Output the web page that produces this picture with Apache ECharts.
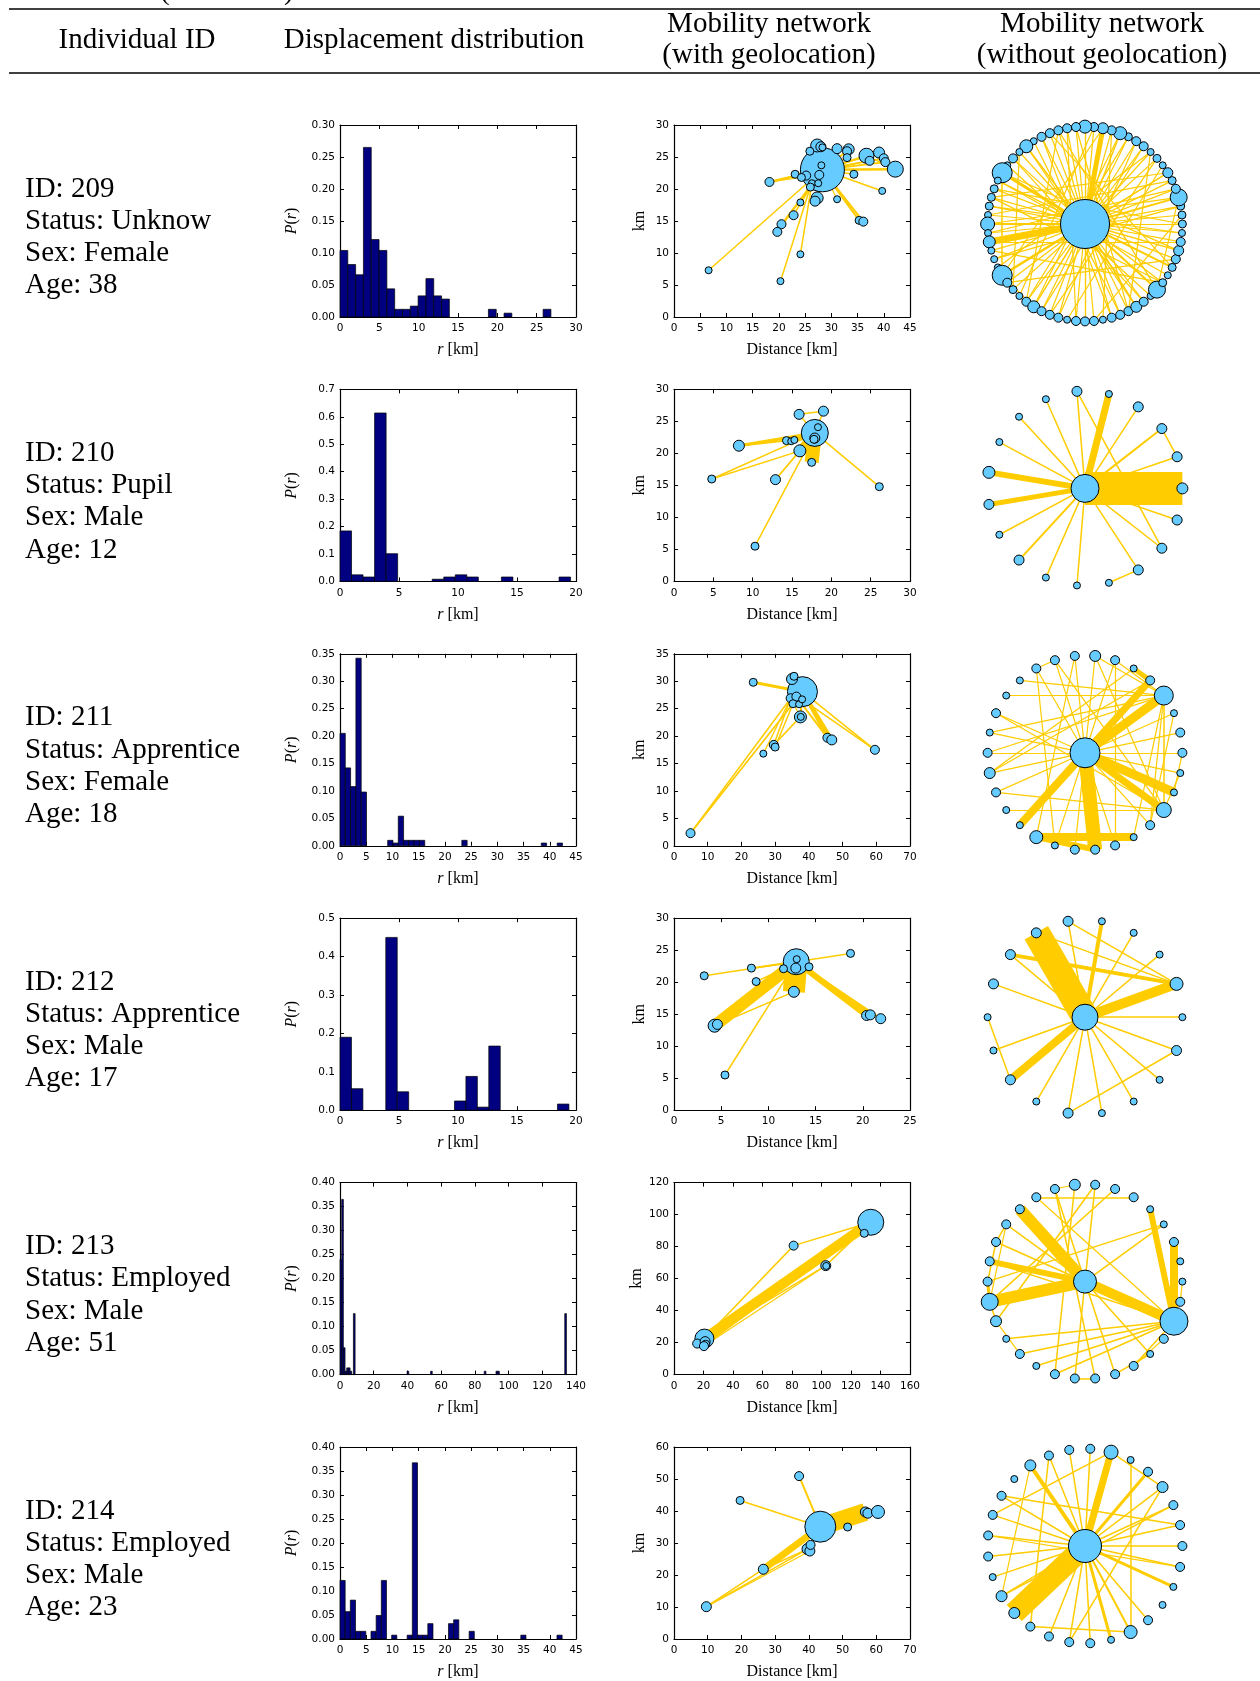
<!DOCTYPE html>
<html>
<head>
<meta charset="utf-8">
<script src="https://cdn.jsdelivr.net/npm/echarts@6/dist/echarts.min.js"></script>
<style>
html, body { margin: 0; padding: 0; background: #fff; }
#chart { width: 1260px; height: 1681px; }
</style>
</head>
<body>
<div id="chart"></div>
<script>
// row labels
const ids = ['209', '210', '211', '212', '213', '214']
const statuses = ['Unknow', 'Pupil', 'Apprentice', 'Apprentice', 'Employed', 'Employed']
const sexes = ['Female', 'Male', 'Female', 'Male', 'Male', 'Male']
const ages = ['38', '12', '18', '17', '51', '23']

// displacement histograms: [bin index, P(r)]
const binWidths = [0.993, 0.977, 1.01, 0.97, 0.995, 0.985]
const hist209 = [[0,0.104],[1,0.082],[2,0.066],[3,0.265],[4,0.121],[5,0.104],[6,0.044],[7,0.012],[8,0.012],[9,0.017],[10,0.033],[11,0.060],[12,0.033],[13,0.028],[19,0.012],[21,0.006],[26,0.012]]
const hist210 = [[0,0.184],[1,0.024],[2,0.016],[3,0.614],[4,0.101],[8,0.008],[9,0.016],[10,0.024],[11,0.016],[14,0.016],[19,0.016]]
const hist211 = [[0,0.205],[1,0.142],[2,0.108],[3,0.342],[4,0.098],[9,0.010],[10,0.005],[11,0.054],[12,0.010],[13,0.010],[14,0.010],[15,0.010],[23,0.010],[38,0.005],[41,0.005]]
const hist212 = [[0,0.19],[1,0.056],[4,0.45],[5,0.048],[10,0.024],[11,0.088],[12,0.008],[13,0.167],[19,0.016]]
const hist213 = [[0,0.24],[1,0.365],[2,0.056],[3,0.007],[4,0.014],[5,0.014],[6,0.007],[8,0.127],[40,0.007],[54,0.007],[86,0.007],[93,0.007],[94,0.007],[134,0.127]]
const hist214 = [[0,0.122],[1,0.057],[2,0.081],[3,0.016],[4,0.016],[6,0.016],[7,0.049],[8,0.122],[10,0.008],[13,0.008],[14,0.367],[15,0.008],[16,0.008],[17,0.032],[21,0.032],[22,0.040],[25,0.016],[35,0.008],[42,0.008]]

// axis ranges: [max, step]
const histX = [[30,5],[20,5],[45,5],[20,5],[140,20],[45,5]]
const histY = [[0.30,0.05,2],[0.7,0.1,1],[0.35,0.05,2],[0.5,0.1,1],[0.40,0.05,2],[0.40,0.05,2]]
const geoX = [[45,5],[30,5],[70,10],[25,5],[160,20],[70,10]]
const geoY = [[30,5],[30,5],[35,5],[30,5],[120,20],[60,10]]

// geolocated nodes: [x km, y km, weight]
const geoNodes209 = [[28.3,23.0,44],[27.3,26.8,13],[28.0,26.6,10],[28.3,26.5,7],[31.1,26.3,10],[33.3,26.2,11],[33.0,25.9,9],[33.0,24.9,8],[36.7,25.2,15],[37.3,24.4,9],[39.1,25.7,11],[40.0,24.8,9],[40.3,24.2,9],[42.2,23.1,16],[34.3,22.3,8],[25.9,25.9,8],[23.1,22.3,8],[25.2,22.1,9],[27.7,22.2,9],[28.1,23.7,7],[24.3,21.8,8],[26.3,20.9,7],[27.5,20.9,7],[26.0,20.3,8],[18.2,21.1,9],[27.3,18.6,12],[26.9,18.1,10],[31.1,18.4,7],[24.1,17.9,7],[22.8,15.9,9],[20.5,14.5,9],[19.7,13.3,9],[35.3,15.1,8],[36.1,14.9,9],[39.7,19.7,7],[24.1,9.8,7],[20.3,5.6,7],[6.6,7.3,7]]
const geoNodes210 = [[17.9,23.2,27],[18.3,24.1,7],[17.9,22.4,10],[17.8,22.2,8],[15.9,26.1,10],[19.0,26.6,10],[14.3,22.0,8],[14.9,21.9,7],[15.3,22.1,7],[8.25,21.2,11],[16.0,20.4,12],[17.5,18.6,8],[4.8,16.0,8],[12.9,15.9,10],[26.1,14.8,8],[10.3,5.5,8]]
const geoNodes211 = [[38.1,28.1,30],[35.0,30.4,11],[35.6,30.9,8],[23.5,29.8,8],[34.6,26.9,9],[36.3,27.2,9],[35.3,25.9,8],[37.1,25.8,7],[38.0,26.7,7],[37.5,23.5,12],[37.6,23.5,7],[29.6,18.4,9],[30.0,18.0,8],[26.5,16.8,7],[45.5,19.7,9],[46.8,19.3,10],[59.6,17.5,9],[4.9,2.3,9]]
const geoNodes212 = [[12.95,23.2,26],[13.0,23.6,7],[12.9,22.2,10],[14.3,22.4,8],[11.6,22.1,8],[8.2,22.2,8],[3.2,21.0,8],[8.7,20.1,8],[18.7,24.5,8],[12.7,18.5,11],[4.3,13.2,13],[4.6,13.4,10],[20.4,14.8,10],[20.8,14.9,10],[21.9,14.3,10],[5.4,5.5,8]]
const geoNodes213 = [[133.4,95.2,26],[129.0,88.3,8],[81.1,80.6,9],[102.9,68.1,10],[103.2,67.9,7],[20.6,22.5,19],[15.7,19.4,9],[21.1,20.6,10],[21.5,19.0,8],[20.3,17.8,9]]
const geoNodes214 = [[43.4,35.1,31],[37.1,50.9,9],[19.6,43.3,8],[56.75,39.7,10],[57.5,39.3,10],[60.5,39.7,13],[51.5,35.0,8],[39.6,28.1,11],[40.3,27.5,10],[40.5,29.4,9],[26.5,21.8,10],[9.6,10.1,10]]

// geolocated links: [from, to, trips]
const geoLinks209 = [[0,1,1.2],[0,4,1.2],[0,5,1.5],[0,6,1.5],[0,7,1.5],[0,8,2],[0,9,1.5],[0,10,1.5],[0,11,1.5],[0,12,2],[0,13,2.5],[8,13,1.5],[0,14,1.5],[0,15,1.2],[0,16,1.5],[0,17,1.2],[16,20,1.2],[0,24,2.5],[20,24,1.2],[0,25,2],[0,26,1.5],[0,27,1.2],[0,28,1.2],[23,29,1.5],[0,30,1.5],[23,31,1.5],[0,32,2],[0,33,2],[0,34,1.5],[21,35,1.5],[23,36,1.5],[0,37,1.5]]
const geoLinks210 = [[0,11,14],[0,10,8],[0,8,6],[0,7,3],[0,6,1.5],[0,9,3],[6,9,2],[0,12,1.5],[10,12,1.5],[0,13,1.5],[10,13,1.5],[0,15,1.5],[0,14,1.5],[0,4,1.5],[4,5,1.5],[0,5,1.5]]
const geoLinks211 = [[3,0,3],[0,17,1.5],[4,17,1.5],[6,17,1.2],[4,11,1.5],[6,12,1.5],[9,11,1.5],[4,13,1.2],[0,14,3],[0,15,4],[5,14,2],[0,16,1.5],[8,16,1.5],[0,9,2],[4,9,1.2],[0,5,1.5],[0,1,1.5]]
const geoLinks212 = [[0,10,12],[0,9,22],[0,12,6],[0,13,4],[0,14,2],[0,6,1.5],[5,0,2],[7,4,1.5],[0,8,1.5],[0,15,1.5],[10,9,1.2],[11,9,1.2]]
const geoLinks213 = [[5,0,10],[7,0,4],[5,2,1.5],[2,0,1.5],[5,3,1.5],[3,0,1.5],[9,3,1.2],[8,0,2]]
const geoLinks214 = [[0,3,18],[0,10,7],[10,11,1.5],[11,7,1.5],[11,8,1.2],[0,2,1.5],[0,1,2],[0,5,2],[0,6,1.5],[0,9,2],[7,10,1.5]]

// circular networks: hub weight, ring node weights (counter-clockwise from 3 o'clock), links (-1 = hub)
const hubSizes = [49, 28, 30, 26, 23, 33]
const ringSizes209 = [8,8,8,17,9,8,10,7,8,7,9,9,8,13,9,11,9,13,9,9,9,9,9,7,13,7,9,7,20,7,8,8,8,7,14,7,12,7,7,7,20,9,8,7,9,12,9,9,9,7,9,9,9,7,9,9,9,11,9,7,17,8,7,8,9,10,9,7]
const ringSizes210 = [11,10,10,10,7,10,7,7,7,12,10,7,10,7,7,7,10,10,10]
const ringSizes211 = [9,9,7,19,9,7,9,11,9,9,9,7,7,9,7,9,11,9,7,7,13,7,9,9,9,7,9,15,7,7]
const ringSizes212 = [7,13,7,7,7,10,10,10,10,7,7,10,7,10,7,7,7,10]
const ringSizes213 = [7,7,9,7,7,9,9,9,11,9,9,9,9,9,9,9,17,11,7,9,7,9,9,9,9,9,7,9,28,9]
const ringSizes214 = [9,9,9,11,9,7,14,9,9,9,11,7,9,9,9,9,7,11,11,9,9,9,9,7,13,9,7,7,9]

const ringLinks209 = [[-1,0,1.2],[-1,1,1.2],[-1,2,1.2],[-1,3,2],[-1,4,1.2],[-1,5,1.2],[-1,6,1.2],[-1,8,1.2],[-1,9,1.2],[-1,10,1.2],[-1,11,1.2],[-1,12,1.2],[-1,13,1.5],[-1,14,1.2],[-1,15,5],[-1,16,1.2],[-1,17,1.2],[-1,18,1.2],[-1,19,1.2],[-1,20,1.2],[-1,21,1.2],[-1,22,1.2],[-1,24,1.5],[-1,25,1.2],[-1,26,1.2],[-1,28,3],[-1,29,1.2],[-1,30,1.2],[-1,31,1.2],[-1,32,1.2],[-1,33,1.2],[-1,34,2],[-1,35,1.2],[-1,36,7],[-1,37,1.2],[-1,38,1.2],[-1,40,2.5],[-1,41,1.2],[-1,42,1.2],[-1,44,1.2],[-1,45,1.5],[-1,46,1.2],[-1,47,1.2],[-1,48,1.2],[-1,50,1.2],[-1,51,1.2],[-1,52,1.2],[-1,54,1.2],[-1,55,1.2],[-1,56,1.2],[-1,57,1.5],[-1,58,1.2],[-1,60,2],[-1,61,1.2],[-1,63,2],[-1,64,1.2],[-1,65,1.5],[-1,66,1.2],[-1,67,1.2],
  [13,45,1.2],[17,51,1.2],[15,40,1.2],[20,60,1.2],[24,57,1.2],[6,40,1.2],[10,46,1.2],[3,34,1.2],[28,65,1.2],[29,62,1.2],[30,0,1.2],[36,66,1.2],[41,64,1.2],[44,12,1.2],[47,8,1.2],[50,19,1.2],[54,22,1.2],[58,26,1.2],[61,31,1.2],[5,33,1.2],[2,38,1.2],[11,48,1.2],[14,53,1.2],[18,56,1.2],[21,63,1.2],[23,55,1.2],[25,42,1.2],[27,59,1.2],[32,67,1.2],[35,4,1.2],[39,9,1.2],[43,16,1.2],[49,7,1.2],[52,1,1.2],[61,37,1.2],[3,60,1.2],[28,40,1.5],[34,36,1.2],[24,28,1.2],[45,40,1.2],[57,60,1.2],[13,17,1.2],[20,44,1.2],[9,56,1.2],[6,31,1.2]]
const ringLinks210 = [[-1,0,33],[-1,4,7],[-1,9,6],[-1,10,5],[-1,1,1.5],[-1,2,2],[-1,3,1.5],[-1,5,1.5],[-1,6,1.5],[-1,7,1.5],[-1,8,1.5],[-1,11,1.5],[-1,12,2],[-1,13,1.5],[-1,14,1.5],[-1,16,1.5],[-1,17,1.5],[-1,18,1.5],[1,2,1.5],[15,16,1.5],[5,17,1.5]]
const ringLinks211 = [[-1,3,9],[-1,4,7],[4,5,5],[-1,28,9],[-1,27,7],[-1,23,14],[20,25,8],[20,23,6],[-1,19,8],[-1,0,1.2],[-1,1,1.2],[-1,2,1.2],[-1,6,1.2],[-1,7,1.2],[-1,8,1.2],[-1,9,1.2],[-1,10,1.2],[-1,13,1.2],[-1,14,1.2],[-1,15,1.2],[-1,16,1.2],[-1,17,1.2],[-1,21,1.2],[-1,22,1.2],[-1,24,1.2],[-1,26,1.2],[-1,29,1.2],[3,12,1.2],[3,11,1.2],[3,14,1.2],[3,26,1.2],[3,25,1.2],[3,27,1.5],[3,6,1.2],[7,27,1.2],[27,17,1.2],[27,18,1.2],[27,13,1.2],[27,9,1.2],[16,4,1.2],[15,3,1.2],[8,20,1.2],[10,21,1.2],[6,24,1.2],[28,0,1.2],[27,29,1.2],[26,2,1.2],[7,3,1.2],[9,10,1.2],[16,5,1.2]]
const ringLinks212 = [[-1,6,27],[-1,1,10],[-1,11,8],[-1,4,4],[7,1,4],[-1,0,1.5],[-1,2,1.5],[-1,3,1.5],[-1,5,1.5],[-1,7,1.5],[-1,8,1.5],[-1,10,1.5],[-1,12,1.5],[-1,13,1.5],[-1,14,1.5],[-1,15,1.5],[-1,16,1.5],[-1,17,1.5],[9,11,1.5],[5,1,1.5],[6,1,1.5],[13,17,1.5]]
const ringLinks213 = [[-1,11,12],[-1,16,12],[-1,14,6],[-1,28,10],[4,28,6],[2,28,8],[15,16,3],[16,17,1.5],[28,18,1.5],[28,19,1.5],[28,20,1.5],[28,21,1.5],[28,14,1.5],[28,13,1.5],[28,25,1.5],[28,10,1.2],[-1,3,1.5],[-1,7,1.5],[-1,9,1.5],[-1,22,1.5],[-1,24,1.5],[-1,12,1.5],[-1,26,1.5],[10,5,1.5],[8,21,1.5],[9,23,1.5],[7,17,1.5],[6,16,1.5],[12,16,1.2],[13,15,1.5],[8,9,1.2],[3,15,1.5],[19,17,1.2],[22,23,1.5],[24,26,1.5],[25,27,1.2],[12,13,1.5],[29,0,1.2]]
const ringLinks214 = [[-1,18,22],[-1,6,7],[-1,10,4],[-1,4,3],[-1,27,3],[-1,23,3],[-1,24,2],[-1,0,1.5],[-1,1,1.5],[-1,2,1.5],[-1,3,1.5],[-1,7,1.5],[-1,8,1.5],[-1,9,1.5],[-1,12,1.5],[-1,13,1.5],[-1,14,1.5],[-1,15,1.5],[-1,16,1.5],[-1,17,1.5],[-1,20,1.5],[-1,21,1.5],[-1,22,1.5],[-1,25,1.5],[-1,28,1.5],[6,13,1.5],[6,3,1.5],[9,19,1.5],[10,17,1.2],[12,1,1.5],[14,28,1.2],[3,21,1.5],[5,24,1.5],[17,2,1.5],[19,24,1.5]]

const hists = [hist209, hist210, hist211, hist212, hist213, hist214]
const geoNodes = [geoNodes209, geoNodes210, geoNodes211, geoNodes212, geoNodes213, geoNodes214]
const geoLinks = [geoLinks209, geoLinks210, geoLinks211, geoLinks212, geoLinks213, geoLinks214]
const ringSizes = [ringSizes209, ringSizes210, ringSizes211, ringSizes212, ringSizes213, ringSizes214]
const ringLinks = [ringLinks209, ringLinks210, ringLinks211, ringLinks212, ringLinks213, ringLinks214]

// layout
const ROW_TOP = 125, ROW_STEP = 264.4, PLOT_W = 236, PLOT_H = 192
const HIST_LEFT = 340, GEO_LEFT = 674
const RING_CX = 1085, RING_CY = 224, RING_HALF = 112, RING_SPAN = 1.15

const barColor = '#000080'
const nodeColor = '#66CCFF'
const edgeColor = '#FFCC00'
const serif = '"Liberation Serif", "Times New Roman", serif'
const sans = '"DejaVu Sans", sans-serif'

const nameStyle = {
  fontFamily: serif, fontSize: 16, color: '#000',
  rich: { i: { fontFamily: serif, fontSize: 16, fontStyle: 'italic', color: '#000' } }
}

const grids = [], xAxes = [], yAxes = [], series = [], graphics = []

// one framed plot with ticks on all four sides
function frame(left, top, xr, yr, xName, yName, yGap) {
  const g = grids.length
  grids.push({ left, top, width: PLOT_W, height: PLOT_H })
  const line = { show: true, onZero: false, lineStyle: { color: '#000', width: 1.2 } }
  const tick = { show: true, inside: true, length: 4, lineStyle: { color: '#000', width: 1 } }
  const common = { type: 'value', gridIndex: g, axisLine: line, axisTick: tick, splitLine: { show: false } }
  const xi = xAxes.length, yi = yAxes.length
  xAxes.push({
    ...common, min: 0, max: xr[0], interval: xr[1], position: 'bottom',
    axisLabel: { fontFamily: sans, fontSize: 10.5, color: '#000', margin: 6 },
    name: xName, nameLocation: 'middle', nameGap: 25, nameTextStyle: nameStyle
  })
  xAxes.push({ ...common, min: 0, max: xr[0], interval: xr[1], position: 'top', axisLabel: { show: false } })
  const dec = yr[2] || 0
  yAxes.push({
    ...common, min: 0, max: yr[0], interval: yr[1], position: 'left',
    axisLabel: { fontFamily: sans, fontSize: 10.5, color: '#000', margin: 5, formatter: v => v.toFixed(dec) },
    name: yName, nameLocation: 'middle', nameGap: yGap, nameTextStyle: nameStyle
  })
  yAxes.push({ ...common, min: 0, max: yr[0], interval: yr[1], position: 'right', axisLabel: { show: false } })
  return { xi, yi }
}

function networkSeries(xi, yi, nodes, links) {
  series.push({
    type: 'lines', coordinateSystem: 'cartesian2d', xAxisIndex: xi, yAxisIndex: yi,
    silent: true, z: 2, clip: false,
    lineStyle: { color: edgeColor, opacity: 1, curveness: 0 },
    data: links.map(([a, b, w]) => ({
      coords: [nodes[a].slice(0, 2), nodes[b].slice(0, 2)],
      lineStyle: { width: w, color: edgeColor, cap: 'butt' }
    }))
  })
  series.push({
    type: 'scatter', xAxisIndex: xi, yAxisIndex: yi, silent: true, z: 3, clip: false,
    symbol: 'circle', symbolSize: v => v[2],
    itemStyle: { color: nodeColor, borderColor: '#000', borderWidth: 1, opacity: 1 },
    data: nodes.map(n => [n[0], n[1], n[2]])
  })
}

// circular layout position of ring node k (hub in the middle)
function ringXY(k, n) {
  if (k < 0) return [0, 0]
  const a = 2 * Math.PI * k / n
  return [Math.cos(a), Math.sin(a)]
}

function label(text, x, y, align) {
  return {
    type: 'text', x, y, silent: true,
    style: {
      text, font: '29px ' + serif, fill: '#000',
      align, verticalAlign: 'middle', textAlign: align, textVerticalAlign: 'middle'
    }
  }
}

for (let i = 0; i < 6; i++) {
  const top = ROW_TOP + i * ROW_STEP

  // displacement histogram
  const h = frame(HIST_LEFT, top, histX[i], histY[i], '{i|r} [km]', '{i|P}({i|r})', 40)
  const w = binWidths[i]
  series.push({
    type: 'custom', xAxisIndex: h.xi, yAxisIndex: h.yi, silent: true, z: 2,
    data: hists[i].map(([k, p]) => [k * w, (k + 1) * w, p]),
    encode: { x: [0, 1], y: 2 },
    renderItem: (params, api) => {
      const p0 = api.coord([api.value(0), api.value(2)])
      const p1 = api.coord([api.value(1), 0])
      return {
        type: 'rect',
        shape: { x: p0[0], y: p0[1], width: p1[0] - p0[0], height: p1[1] - p0[1] },
        style: { fill: barColor, stroke: '#000', lineWidth: 0.7 }
      }
    }
  })

  // geolocated network
  const m = frame(GEO_LEFT, top, geoX[i], geoY[i], 'Distance [km]', 'km', 26)
  networkSeries(m.xi, m.yi, geoNodes[i], geoLinks[i])

  // network without geolocation
  const g = grids.length
  const cy = RING_CY + i * ROW_STEP
  grids.push({ left: RING_CX - RING_HALF, top: cy - RING_HALF, width: 2 * RING_HALF, height: 2 * RING_HALF })
  const rx = xAxes.length, ry = yAxes.length
  xAxes.push({ type: 'value', gridIndex: g, min: -RING_SPAN, max: RING_SPAN, show: false })
  yAxes.push({ type: 'value', gridIndex: g, min: -RING_SPAN, max: RING_SPAN, show: false })
  const n = ringSizes[i].length
  const ringNodes = [[0, 0, hubSizes[i]]].concat(ringSizes[i].map((s, k) => ringXY(k, n).concat([s])))
  // shift indices: hub is -1 in the link table, 0 in ringNodes
  networkSeries(rx, ry, ringNodes, ringLinks[i].map(([a, b, wt]) => [a + 1, b + 1, wt]))

  // row labels
  const rowText = ['ID: ' + ids[i], 'Status: ' + statuses[i], 'Sex: ' + sexes[i], 'Age: ' + ages[i]]
  rowText.forEach((t, j) => graphics.push(label(t, 25, 189 + i * ROW_STEP + j * 32.2, 'left')))
}

// table header
graphics.push(label('(continued)', 160, -9, 'left'))
graphics.push({ type: 'line', silent: true, shape: { x1: 9, y1: 9, x2: 1260, y2: 9 }, style: { stroke: '#000', lineWidth: 1.3 } })
graphics.push({ type: 'line', silent: true, shape: { x1: 9, y1: 73, x2: 1260, y2: 73 }, style: { stroke: '#000', lineWidth: 1.3 } })
graphics.push(label('Individual ID', 137, 40, 'center'))
graphics.push(label('Displacement distribution', 434, 40, 'center'))
graphics.push(label('Mobility network', 769, 24, 'center'))
graphics.push(label('(with geolocation)', 769, 55, 'center'))
graphics.push(label('Mobility network', 1102, 24, 'center'))
graphics.push(label('(without geolocation)', 1102, 55, 'center'))

const chart = echarts.init(document.getElementById('chart'), null, { renderer: 'canvas' })
chart.setOption({
  animation: false,
  backgroundColor: '#fff',
  grid: grids,
  xAxis: xAxes,
  yAxis: yAxes,
  series,
  graphic: graphics
})
</script>
</body>
</html>
